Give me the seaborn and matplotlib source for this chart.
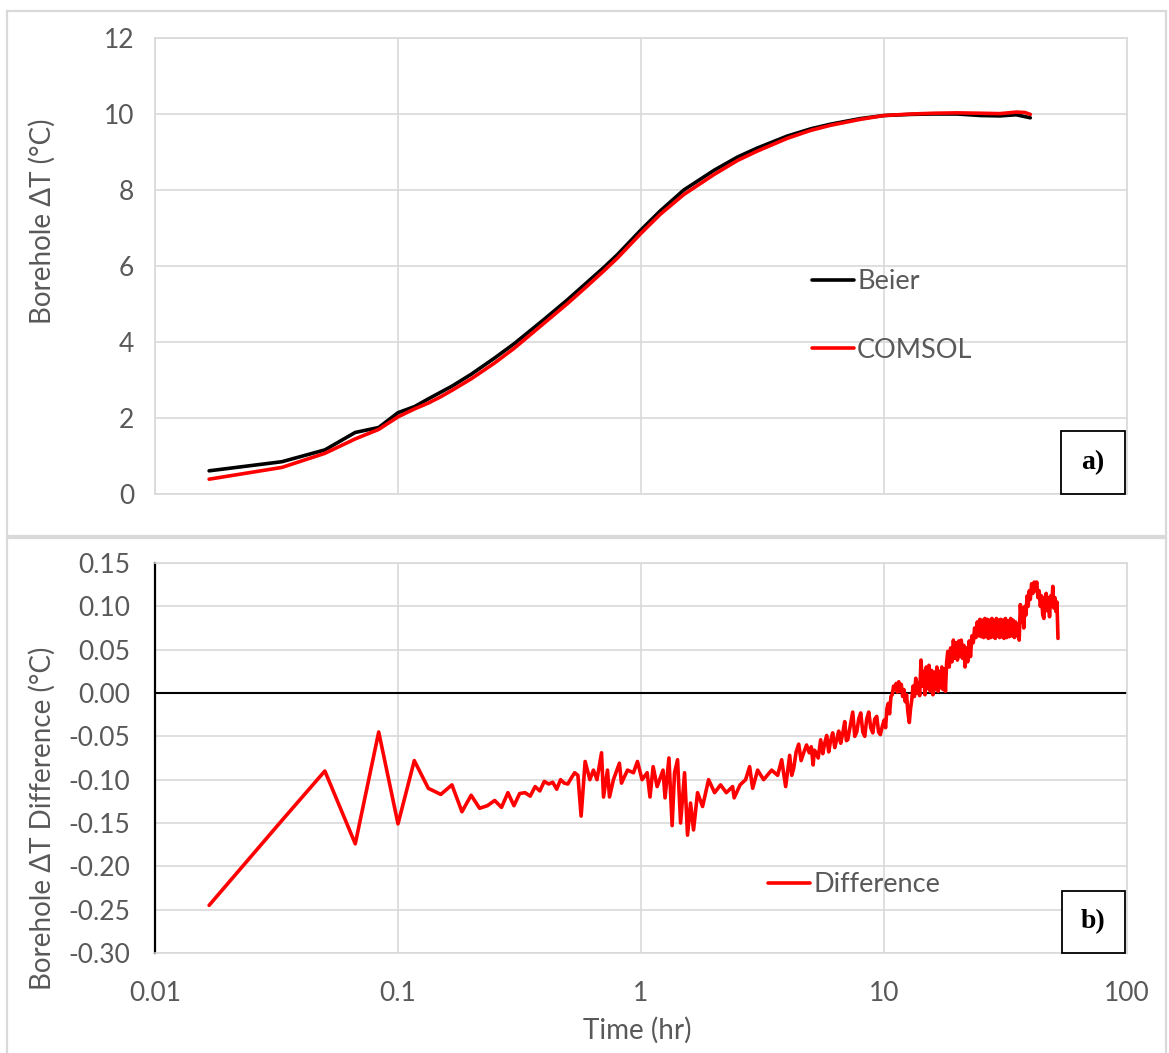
import numpy as np
import pandas as pd
import matplotlib
matplotlib.use("Agg")
import matplotlib.pyplot as plt
from matplotlib.patches import Rectangle
import seaborn as sns

# ── colours ───────────────────────────────────────────────────────────────────
GRID = "#d9d9d9"
TXT = "#595959"
RED = "#ff0000"

# ── data ─────────────────────────────────────────────────────────────────────
beier_t = [0.0167, 0.0333, 0.05, 0.0667, 0.0833, 0.1, 0.117, 0.133, 0.15, 0.167,
           0.2, 0.25, 0.3, 0.4, 0.5, 0.6, 0.7, 0.8, 1.0, 1.2, 1.5, 2.0, 2.5, 3.0,
           4.0, 5.0, 6.0, 8.0, 10, 13, 16, 20, 25, 30, 35, 40]
beier_dt = [0.61, 0.85, 1.16, 1.62, 1.75, 2.14, 2.30, 2.50, 2.68, 2.84,
            3.15, 3.58, 3.95, 4.60, 5.12, 5.57, 5.95, 6.30, 6.95, 7.45, 8.00, 8.52, 8.87, 9.10,
            9.42, 9.61, 9.73, 9.88, 9.96, 9.99, 10.0, 10.0, 9.96, 9.95, 9.98, 9.90]

comsol_t = [0.0167, 0.0333, 0.05, 0.0667, 0.0833, 0.1, 0.117, 0.133, 0.15, 0.167,
            0.2, 0.25, 0.3, 0.4, 0.5, 0.6, 0.7, 0.8, 1.0, 1.2, 1.5, 2.0, 2.5, 3.0,
            4.0, 5.0, 6.0, 8.0, 10, 13, 16, 20, 25, 30, 35, 38, 40]
comsol_dt = [0.39, 0.70, 1.07, 1.45, 1.70, 2.03, 2.24, 2.39, 2.56, 2.73,
             3.03, 3.45, 3.83, 4.50, 5.02, 5.47, 5.86, 6.21, 6.86, 7.36, 7.88, 8.41, 8.78, 9.02,
             9.36, 9.57, 9.70, 9.86, 9.96, 10.0, 10.02, 10.03, 10.02, 10.01, 10.05, 10.04, 9.99]

diff_t = [0.0167, 0.0333, 0.05, 0.0667, 0.0833, 0.1, 0.1167, 0.1333, 0.15, 0.1667,
          0.1833, 0.2, 0.2167, 0.2333, 0.25, 0.2667, 0.2833, 0.3, 0.3167, 0.3333,
          0.35, 0.3667, 0.3833, 0.4, 0.4167, 0.4333, 0.45, 0.4667, 0.4833, 0.5,
          0.5167, 0.5333, 0.55, 0.567, 0.589, 0.616, 0.637, 0.659, 0.688, 0.701,
          0.728, 0.742, 0.770, 0.815, 0.831, 0.880, 0.931, 0.967, 1.010, 1.060,
          1.089, 1.122, 1.165, 1.232, 1.256, 1.303, 1.343, 1.374, 1.414, 1.455,
          1.511, 1.554, 1.599, 1.645, 1.709, 1.792, 1.897, 2.008, 2.126, 2.244,
          2.382, 2.418, 2.557, 2.695, 2.799, 2.880, 3.020, 3.196, 3.449, 3.651,
          3.792, 3.938,
          4.091, 4.17, 4.249, 4.35, 4.456, 4.56, 4.672, 4.80, 4.925, 5.02,
          5.110, 5.17, 5.233, 5.36, 5.487, 5.60, 5.700, 5.81, 5.921, 6.03,
          6.150, 6.27, 6.388, 6.51, 6.635, 6.76, 6.892, 7.00, 7.091, 7.26,
          7.436, 7.58, 7.723, 7.87, 8.021, 8.18, 8.332, 8.49, 8.655, 8.82,
          8.990, 9.16, 9.335, 9.50, 9.660, 9.85,
          10.03, 10.15, 10.28, 10.41, 10.54, 10.68, 10.81, 10.95, 11.08, 11.22,
          11.36, 11.5, 11.64, 11.78, 11.93, 12.08, 12.23, 12.38, 12.54, 12.71,
          12.86, 13.01, 13.17, 13.34, 13.51, 13.68, 13.85, 14.02, 14.2, 14.38,
          14.56, 14.74, 14.93, 15.12, 15.31, 15.5, 15.7, 15.9, 16.1, 16.3,
          16.5, 16.7, 16.9, 17.1, 17.3, 17.5, 17.7, 17.9, 18.1, 18.3,
          18.55, 18.8, 19.05, 19.3, 19.55, 19.8, 20.05, 20.3, 20.55, 20.8,
          21.05, 21.3, 21.55, 21.8, 22.1, 22.4, 22.7, 23.0, 23.3, 23.6,
          23.9, 24.2, 24.5, 24.8, 25.1, 25.4, 25.7, 26.0, 26.3, 26.6,
          26.9, 27.2, 27.5, 27.8, 28.1, 28.4, 28.7, 29.0, 29.3, 29.6,
          29.9, 30.2, 30.5, 30.8, 31.2, 31.6, 32.0, 32.4, 32.8, 33.2,
          33.6, 34.0, 34.4, 34.8, 35.2, 35.6, 36.0, 36.4, 36.8, 37.2,
          37.6, 38.0, 38.4, 38.8, 39.2, 39.6, 40.0, 40.5, 41.0, 41.5,
          42.0, 42.5, 43.0, 43.5, 44.0, 44.5, 45.0, 45.5, 46.0, 46.5,
          47.0, 47.5, 48.0, 48.5, 49.0, 49.5, 50.0, 50.5, 51.0, 51.5, 52.0]
diff_dt = [-0.245, -0.147, -0.090, -0.174, -0.045, -0.151, -0.078, -0.110, -0.117, -0.106,
           -0.137, -0.118, -0.133, -0.130, -0.124, -0.132, -0.115, -0.130, -0.116, -0.115,
           -0.119, -0.108, -0.113, -0.102, -0.105, -0.103, -0.111, -0.100, -0.104, -0.105,
           -0.098, -0.092, -0.095, -0.142, -0.079, -0.100, -0.089, -0.100, -0.069, -0.120,
           -0.089, -0.120, -0.100, -0.081, -0.104, -0.089, -0.092, -0.079, -0.100, -0.092,
           -0.120, -0.085, -0.108, -0.089, -0.121, -0.075, -0.153, -0.092, -0.077, -0.150,
           -0.092, -0.164, -0.127, -0.158, -0.115, -0.131, -0.100, -0.115, -0.106, -0.115,
           -0.108, -0.121, -0.106, -0.100, -0.085, -0.110, -0.089, -0.100, -0.089, -0.095,
           -0.077, -0.108,
           -0.072, -0.095, -0.087, -0.068, -0.059, -0.078, -0.069, -0.060, -0.069, -0.062,
           -0.083, -0.066, -0.068, -0.075, -0.054, -0.070, -0.058, -0.049, -0.068, -0.055,
           -0.046, -0.063, -0.054, -0.044, -0.058, -0.047, -0.033, -0.055, -0.054, -0.038,
           -0.022, -0.050, -0.045, -0.030, -0.023, -0.045, -0.050, -0.030, -0.022, -0.040,
           -0.046, -0.030, -0.027, -0.045, -0.048, -0.038,
           -0.031, -0.040, -0.018, -0.012, -0.024, -0.004, -0.002, 0.008, 0.004, 0.011,
           0.001, 0.013, 0.002, 0.010, -0.004, 0.004, -0.010, -0.002, -0.022, -0.034,
           -0.018, -0.008, 0.008, -0.004, 0.017, 0.000, 0.012, -0.003, 0.038, 0.008,
           0.025, -0.002, 0.030, 0.005, 0.032, 0.002, 0.026, -0.002, 0.024, 0.004,
           0.030, 0.002, 0.025, 0.006, 0.030, 0.004, 0.028, 0.002, 0.035, 0.048,
           0.030, 0.052, 0.036, 0.061, 0.040, 0.058, 0.038, 0.060, 0.042, 0.061,
           0.040, 0.055, 0.030, 0.052, 0.036, 0.060, 0.042, 0.066, 0.058, 0.075,
           0.064, 0.082, 0.066, 0.085, 0.065, 0.084, 0.064, 0.086, 0.065, 0.085,
           0.063, 0.084, 0.064, 0.086, 0.065, 0.083, 0.063, 0.086, 0.066, 0.084,
           0.064, 0.085, 0.065, 0.084, 0.063, 0.086, 0.064, 0.083, 0.065, 0.086,
           0.066, 0.084, 0.064, 0.082, 0.066, 0.080, 0.061, 0.102, 0.082, 0.098,
           0.075, 0.100, 0.090, 0.112, 0.100, 0.118, 0.108, 0.126, 0.115, 0.128,
           0.118, 0.128, 0.110, 0.118, 0.100, 0.112, 0.090, 0.086, 0.108, 0.115,
           0.095, 0.110, 0.088, 0.112, 0.100, 0.123, 0.098, 0.110, 0.094, 0.105, 0.063]

x_ticks = [0.01, 0.1, 1, 10, 100]
x_labels = ["0.01", "0.1", "1", "10", "100"]
top_yticks = [0, 2, 4, 6, 8, 10, 12]
bot_yticks = [-0.30, -0.25, -0.20, -0.15, -0.10, -0.05, 0.00, 0.05, 0.10, 0.15]

sns.set_theme(style="white")
plt.rcParams["font.family"] = ["Lato", "DejaVu Sans"]

W, H = 1169, 1053
fig = plt.figure(figsize=(W / 100, H / 100), dpi=100)
fig.patch.set_facecolor("white")


def fx(px):
    return px / W


def fy(py):
    return 1 - py / H


# outer chart frames (Excel style)
for y0, y1 in [(11, 536), (538, 1070)]:
    fig.add_artist(Rectangle((fx(7), fy(y1)), fx(1166) - fx(7), fy(y0) - fy(y1),
                             transform=fig.transFigure, fill=False,
                             edgecolor=GRID, linewidth=1.6))

ax1 = fig.add_axes([fx(155), fy(494), fx(1127) - fx(155), fy(38) - fy(494)])
ax2 = fig.add_axes([fx(155), fy(953), fx(1127) - fx(155), fy(563) - fy(953)])

df_b = pd.DataFrame({"time": beier_t, "dT": beier_dt})
df_c = pd.DataFrame({"time": comsol_t, "dT": comsol_dt})
df_d = pd.DataFrame({"time": diff_t, "dT": diff_dt})

sns.lineplot(data=df_b, x="time", y="dT", ax=ax1, color="black", linewidth=2.6,
             label="Beier", estimator=None)
sns.lineplot(data=df_c, x="time", y="dT", ax=ax1, color=RED, linewidth=2.6,
             label="COMSOL", estimator=None)
sns.lineplot(data=df_d, x="time", y="dT", ax=ax2, color=RED, linewidth=2.6,
             label="Difference", estimator=None)
ax2.axhline(0, color="black", linewidth=1.5, zorder=1.5)

for ax, yt, ylim in [(ax1, top_yticks, (0, 12)), (ax2, bot_yticks, (-0.30, 0.15))]:
    ax.set_xscale("log")
    ax.set_xlim(0.01, 100)
    ax.set_ylim(*ylim)
    ax.set_xticks(x_ticks)
    ax.xaxis.set_minor_locator(matplotlib.ticker.NullLocator())
    ax.set_yticks(yt)
    ax.grid(True, color=GRID, linewidth=1.2)
    ax.set_axisbelow(True)
    ax.set_xlabel("")
    ax.set_ylabel("")
    for s in ax.spines.values():
        s.set_color(GRID)
        s.set_linewidth(1.2)
    ax.tick_params(length=0, labelsize=19, labelcolor=TXT)

ax1.set_yticklabels([str(v) for v in top_yticks])
ax1.set_xticklabels([])
ax1.tick_params(axis="y", pad=15)

ax2.set_yticklabels([f"{v:.2f}".replace("\u2212", "-") for v in bot_yticks])
ax2.set_xticklabels(x_labels)
ax2.tick_params(axis="y", pad=18)
ax2.tick_params(axis="x", pad=20)
ax2.spines["left"].set_color("black")
ax2.spines["left"].set_linewidth(1.6)

# legends
leg1 = ax1.legend(loc="center left", bbox_to_anchor=(fx(812), fy(316)),
                  bbox_transform=fig.transFigure, frameon=False, fontsize=19.5,
                  handlelength=1.55, handletextpad=0.12, labelspacing=1.6,
                  borderpad=0, borderaxespad=0)
leg2 = ax2.legend(loc="center left", bbox_to_anchor=(fx(768), fy(885)),
                  bbox_transform=fig.transFigure, frameon=False, fontsize=19.5,
                  handlelength=1.55, handletextpad=0.12, borderpad=0, borderaxespad=0)
for leg in (leg1, leg2):
    for t in leg.get_texts():
        t.set_color(TXT)
    for ln in leg.get_lines():
        ln.set_linewidth(2.6)

# axis titles
fig.text(fx(42), fy(221), "Borehole \u0394T (\u00b0C)", rotation=90, ha="center",
         va="center", fontsize=20, color=TXT)
fig.text(fx(42), fy(818), "Borehole \u0394T Difference (\u00b0C)", rotation=90,
         ha="center", va="center", fontsize=20, color=TXT)
fig.text(fx(637), fy(1030), "Time (hr)", ha="center", va="center",
         fontsize=20, color=TXT)

# panel tags
for (x0, y0, x1, y1, tag) in [(1061, 431, 1125, 494, "a)"), (1062, 891, 1125, 953, "b)")]:
    fig.add_artist(Rectangle((fx(x0), fy(y1)), fx(x1) - fx(x0), fy(y0) - fy(y1),
                             transform=fig.transFigure, facecolor="white",
                             edgecolor="black", linewidth=1.3, zorder=5))
    fig.text(fx((x0 + x1) / 2), fy((y0 + y1) / 2), tag, ha="center", va="center",
             fontsize=20, fontweight="bold", family="Liberation Serif",
             color="black", zorder=6)

fig.savefig("out.png", dpi=100, facecolor="white")
